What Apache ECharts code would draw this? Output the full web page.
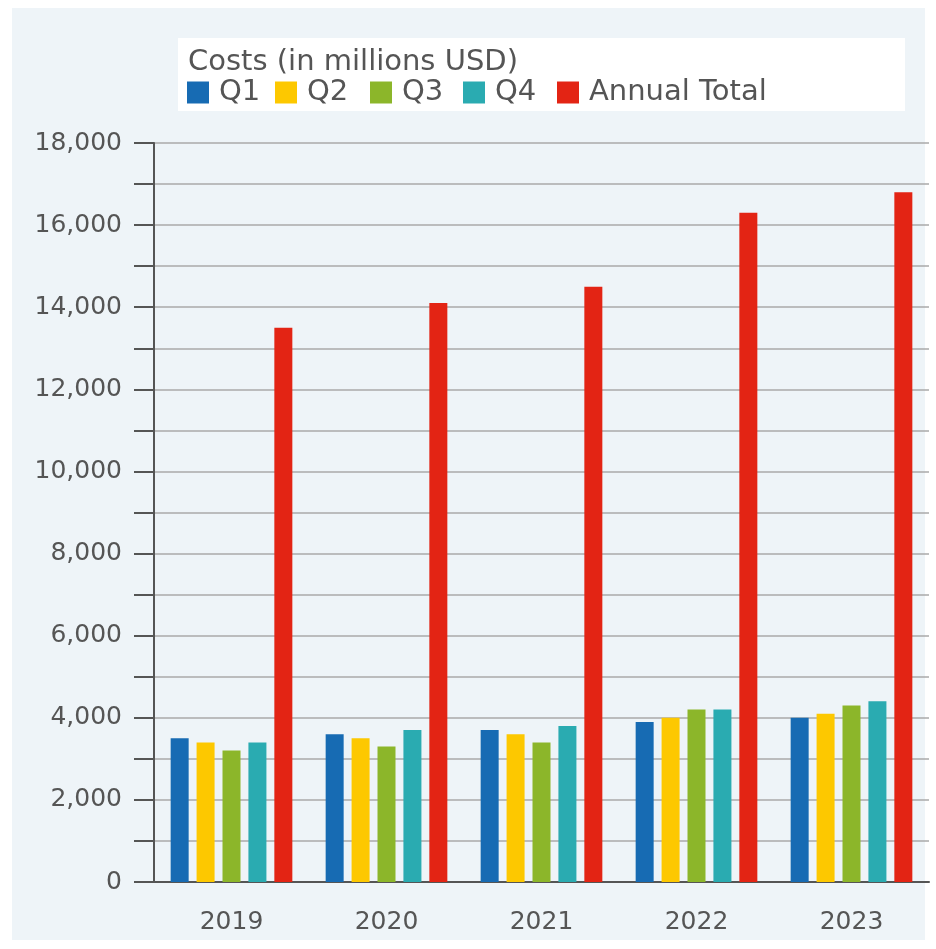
<!DOCTYPE html>
<html><head><meta charset="utf-8">
<script src="https://cdn.jsdelivr.net/npm/echarts@6/dist/echarts.min.js"></script>
<style>html,body{margin:0;padding:0;background:#ffffff;}#c{width:936px;height:949px;}</style>
</head><body><div id="c"></div>
<script>
const categories = ['2019','2020','2021','2022','2023'];
const q1 = [3500, 3600, 3700, 3900, 4000];
const q2 = [3400, 3500, 3600, 4000, 4100];
const q3 = [3200, 3300, 3400, 4200, 4300];
const q4 = [3400, 3700, 3800, 4200, 4400];
const annualTotal = [13500, 14100, 14500, 16300, 16800];
const seriesNames = ['Q1','Q2','Q3','Q4','Annual Total'];
const colors = ['#176bb3','#fdc800','#8cb62a','#2aabb1','#e32414'];
const FONT = 'DejaVu Sans';
const legendLefts = [187, 275, 370, 463, 557];
const chart = echarts.init(document.getElementById('c'), null, {renderer:'canvas'});
const data = [q1,q2,q3,q4,annualTotal];
chart.setOption({
  animation:false,
  color: colors,
  graphic:[
    {type:'rect', z:-10, shape:{x:12,y:8,width:913,height:932}, style:{fill:'#eef4f8'}},
    {type:'rect', z:-5, shape:{x:178,y:38,width:727,height:73}, style:{fill:'#ffffff'}},
    {type:'text', left:188, top:48, style:{text:'Costs (in millions USD)', font:'29px "'+FONT+'"', fill:'#555555'}}
  ],
  legend: seriesNames.map((n,i)=>({
    left:legendLefts[i], top:78, padding:0, itemWidth:22, itemHeight:22,
    icon:'rect',
    textStyle:{fontFamily:FONT, fontSize:29, color:'#555555', padding:[0,0,0,5]},
    data:[n]
  })),
  grid:{left:154, right:7, top:143, bottom:67, containLabel:false},
  xAxis:{
    type:'category', data:categories,
    axisLine:{lineStyle:{color:'#555555', width:2}},
    axisTick:{show:false},
    axisLabel:{fontFamily:FONT, fontSize:25, color:'#555555', margin:28}
  },
  yAxis:{
    type:'value', min:0, max:18000, interval:1000,
    axisLine:{show:true, lineStyle:{color:'#555555', width:2}},
    axisTick:{show:true, length:20, lineStyle:{color:'#555555', width:2}},
    axisLabel:{fontFamily:FONT, fontSize:25, color:'#555555', margin:32,
      formatter: v => (v % 2000 === 0) ? v.toLocaleString('en-US') : ''},
    splitLine:{lineStyle:{color:'#aaaaaa', width:1.5}}
  },
  series: seriesNames.map((n,i)=>({
    name:n, type:'bar', data:data[i], barWidth:18, barGap:'44%',
    itemStyle:{color:colors[i]}
  }))
});
</script></body></html>
